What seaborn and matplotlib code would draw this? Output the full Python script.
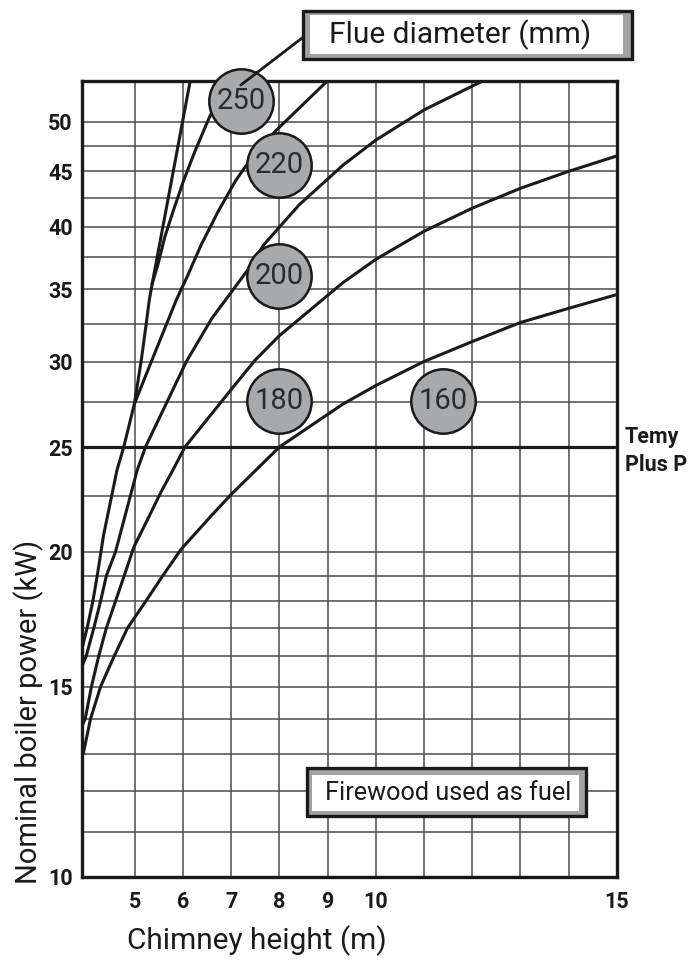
import numpy as np
import pandas as pd
import matplotlib
matplotlib.use("Agg")
import matplotlib.pyplot as plt
from matplotlib.patches import Rectangle
import seaborn as sns

# --- data (x = chimney height m, y = boiler power kW) ---
curve_160_x = [3.93, 4.08, 4.29, 4.57, 4.85, 5.23, 5.58, 5.96, 6.59, 7.0, 8.0, 9.32, 10.0, 11.0, 12.0, 13.0, 14.0, 15.0]
curve_160_y = [13.0, 14.0, 15.0, 16.0, 17.0, 18.0, 19.0, 20.1, 21.6, 22.6, 25.0, 27.4, 28.5, 30.0, 31.3, 32.6, 33.6, 34.6]

curve_180_x = [3.91, 3.97, 4.1, 4.25, 4.41, 4.6, 4.78, 4.98, 5.26, 5.54, 5.79, 6.04, 7.01, 7.5, 8.0, 9.32, 10.0, 11.0, 12.0, 13.0, 14.0, 15.0]
curve_180_y = [13.8, 14.0, 15.0, 16.0, 17.0, 18.0, 19.0, 20.2, 21.4, 22.7, 23.8, 25.0, 28.3, 30.1, 31.7, 35.5, 37.3, 39.6, 41.6, 43.4, 45.0, 46.5]

curve_200_x = [3.91, 3.99, 4.15, 4.29, 4.41, 4.6, 5.05, 5.22, 6.07, 6.6, 7.33, 7.68, 8.41, 9.32, 10.0, 11.0, 12.23]
curve_200_y = [15.7, 16.0, 17.0, 18.0, 19.0, 20.0, 23.8, 25.0, 30.0, 32.9, 36.4, 38.5, 41.9, 45.6, 48.1, 51.3, 54.6]

curve_220_x = [3.91, 4.01, 4.13, 4.22, 4.35, 4.63, 4.77, 4.99, 5.33, 5.61, 5.86, 6.08, 6.38, 6.74, 7.09, 7.3, 7.91, 9.0]
curve_220_y = [16.3, 17.0, 18.0, 19.0, 20.7, 23.8, 25.0, 27.4, 29.9, 32.1, 34.2, 35.9, 38.5, 41.4, 44.1, 45.5, 49.0, 54.6]

curve_250_x = [4.99, 5.13, 5.22, 5.30, 5.36, 5.48, 5.62, 5.80, 6.01, 6.25, 6.53, 6.9]
curve_250_y = [27.4, 30.0, 32.1, 34.2, 35.4, 36.9, 39.1, 41.4, 44.1, 47.0, 50.3, 54.6]

branch_x = [5.36, 6.15]
branch_y = [35.4, 54.6]

flue_labels = ["250", "220", "200", "180", "160"]
flue_label_x = [7.2, 8.0, 8.0, 8.0, 11.4]
flue_label_y = [52.3, 45.6, 36.0, 27.6, 27.6]

temy_power = 25

x_grid = [5, 6, 7, 8, 9, 10, 11, 12, 13, 14, 15]
x_tick_labels = ["5", "6", "7", "8", "9", "10", "", "", "", "", "15"]
y_grid = [10, 11, 12, 13, 14, 15, 16, 17, 18, 19, 20, 22.5, 25, 27.5, 30, 32.5,
          35, 37.5, 40, 42.5, 45, 47.5, 50]
y_labelled = [10, 15, 20, 25, 30, 35, 40, 45, 50]

# --- style ---
sns.set_style("white")
plt.rcParams['font.family'] = ['Roboto', 'DejaVu Sans']
INK = '#1a1a1a'
W, H = 692, 961

def fx(px):
    return px / W

def fy(py):
    return 1 - py / H

fig = plt.figure(figsize=(6.92, 9.61), dpi=100)
ax = fig.add_axes([fx(82.3), fy(876.7), fx(616.7) - fx(82.3), fy(80.7) - fy(876.7)])

curves = [(curve_160_x, curve_160_y), (curve_180_x, curve_180_y),
          (curve_200_x, curve_200_y), (curve_220_x, curve_220_y),
          (curve_250_x, curve_250_y), (branch_x, branch_y)]
for cx, cy in curves:
    df = pd.DataFrame({"h": cx, "p": cy})
    sns.lineplot(data=df, x="h", y="p", ax=ax, color=INK, lw=2.2,
                 sort=False, estimator=None, zorder=3)

ax.axhline(temy_power, color=INK, lw=2.3, zorder=3)

ax.set_yscale('log')
ax.set_xlim(3.91, 15.0)
ax.set_ylim(10, 54.6)

ax.set_xticks(x_grid)
ax.set_xticklabels(x_tick_labels)
ax.set_yticks(y_grid)
ax.set_yticklabels([f"{v:g}" if v in y_labelled else "" for v in y_grid])
ax.yaxis.set_minor_locator(matplotlib.ticker.NullLocator())
ax.grid(True, color='#4a4a4a', lw=1.1, zorder=1)
ax.set_axisbelow(True)
ax.tick_params(length=0, labelsize=15.5, colors=INK)
ax.tick_params(axis='x', pad=10)
ax.tick_params(axis='y', pad=7)
for lab in ax.get_xticklabels() + ax.get_yticklabels():
    lab.set_fontweight('bold')
for sp in ax.spines.values():
    sp.set_visible(True)
    sp.set_color(INK)
    sp.set_linewidth(2.4)
ax.set_xlabel("")
ax.set_ylabel("")

# flue diameter badges
sns.scatterplot(x=flue_label_x, y=flue_label_y, ax=ax, s=2150, color='#a7a9ac',
                edgecolor=INK, linewidth=1.8, zorder=5, clip_on=False, legend=False)
for lab, lx, ly in zip(flue_labels, flue_label_x, flue_label_y):
    ax.text(lx, ly, lab, ha='center', va='center', fontsize=21,
            fontweight='normal', color='#2b2b2b', zorder=6)

# leader line to the legend box
ax.annotate('', xy=(7.2, 54.1), xytext=(fx(306), fy(35)), textcoords='figure fraction',
            arrowprops=dict(arrowstyle='-', color=INK, lw=2.0, shrinkA=0, shrinkB=0),
            annotation_clip=False, zorder=7)

def framed_box(outer, inner):
    (ox0, oy0, ox1, oy1), (ix0, iy0, ix1, iy1) = outer, inner
    fig.add_artist(Rectangle((fx(ox0), fy(oy1)), fx(ox1) - fx(ox0), fy(oy0) - fy(oy1),
                             transform=fig.transFigure, facecolor='#a0a2a5',
                             edgecolor=INK, lw=2.4, zorder=8))
    fig.add_artist(Rectangle((fx(ix0), fy(iy1)), fx(ix1) - fx(ix0), fy(iy0) - fy(iy1),
                             transform=fig.transFigure, facecolor='white',
                             edgecolor='none', zorder=9))

framed_box((303.4, 11, 631.6, 59.3), (310, 15, 623.3, 54.3))
fig.text(fx(329), fy(35), "Flue diameter (mm)", ha='left', va='center',
         fontsize=21.5, color=INK, zorder=10)

framed_box((306.7, 767.7, 586, 816), (311.7, 775, 579.3, 811))
fig.text(fx(325), fy(793), "Firewood used as fuel", ha='left', va='center',
         fontsize=18.2, color=INK, zorder=10)

fig.text(fx(625), fy(451), "Temy\nPlus P", ha='left', va='center', fontsize=15.5,
         fontweight='bold', color=INK, linespacing=1.4)

fig.text(fx(28.5), fy(712), "Nominal boiler power (kW)", rotation=90,
         ha='center', va='center', fontsize=21, color=INK)
fig.text(fx(256.5), fy(941), "Chimney height (m)", ha='center', va='center',
         fontsize=21.5, color=INK)

fig.savefig("out.png", dpi=100)
